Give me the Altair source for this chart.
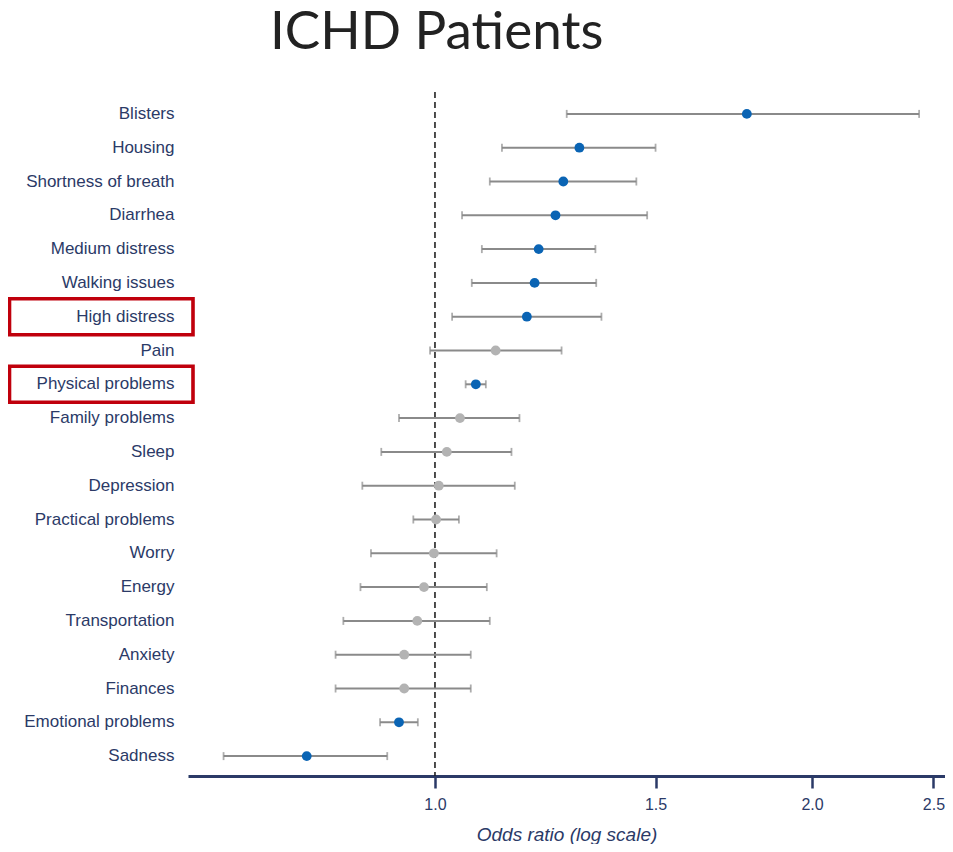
import altair as alt
import pandas as pd

labels = ["Blisters", "Housing", "Shortness of breath", "Diarrhea", "Medium distress",
          "Walking issues", "High distress", "Pain", "Physical problems", "Family problems",
          "Sleep", "Depression", "Practical problems", "Worry", "Energy", "Transportation",
          "Anxiety", "Finances", "Emotional problems", "Sadness"]
odds = [1.774, 1.304, 1.266, 1.248, 1.210, 1.201, 1.184, 1.118, 1.078, 1.047,
        1.022, 1.007, 1.002, 0.998, 0.980, 0.968, 0.945, 0.945, 0.936, 0.790]
lower = [1.274, 1.131, 1.106, 1.051, 1.090, 1.070, 1.032, 0.991, 1.058, 0.936,
         0.906, 0.875, 0.961, 0.889, 0.872, 0.845, 0.833, 0.833, 0.904, 0.678]
upper = [2.435, 1.500, 1.448, 1.477, 1.343, 1.345, 1.358, 1.262, 1.098, 1.168,
         1.151, 1.158, 1.045, 1.120, 1.100, 1.106, 1.068, 1.068, 0.969, 0.916]
significant = ["yes", "yes", "yes", "yes", "yes", "yes", "yes", "no", "yes", "no",
               "no", "no", "no", "no", "no", "no", "no", "no", "yes", "yes"]
highlighted = ["High distress", "Physical problems"]
ref_line = [1.0]
x_ticks = [1.0, 1.5, 2.0, 2.5]

NAVY = "#2b3a67"
df = pd.DataFrame({"label": labels, "odds": odds, "lower": lower,
                   "upper": upper, "sig": significant})
boxes = pd.DataFrame({"label": highlighted})
ref = pd.DataFrame({"ref": ref_line})

W, H = 757, 676
xscale = alt.Scale(type="log", domain=[0.6351, 2.5536], nice=False, zero=False)
yenc = alt.Y("label:N", sort=labels,
             scale=alt.Scale(type="band", paddingInner=0, paddingOuter=0),
             axis=alt.Axis(title=None, domain=False, ticks=False, grid=False,
                           labelFont="Liberation Sans", labelFontSize=17,
                           labelColor=NAVY, labelPadding=14, labelLimit=400))

base = alt.Chart(df)

bars = base.mark_rule(color="#8a8a8a", strokeWidth=2).encode(
    x=alt.X("lower:Q", scale=xscale,
            axis=alt.Axis(values=x_ticks, format=".1f", title="Odds ratio (log scale)",
                          grid=False, offset=3, domainColor=NAVY, domainWidth=3,
                          tickColor=NAVY, tickWidth=2.5, tickSize=12,
                          labelFont="Liberation Sans", labelFontSize=16,
                          labelColor=NAVY, labelPadding=8,
                          titleFont="Liberation Sans", titleFontSize=19,
                          titleFontStyle="italic", titleFontWeight="normal",
                          titleColor=NAVY, titlePadding=13)),
    x2="upper:Q",
    y=yenc,
)
cap_lo = base.mark_tick(color="#8a8a8a", thickness=1.8, size=8, orient="vertical").encode(
    x=alt.X("lower:Q", scale=xscale), y=alt.Y("label:N", sort=labels))
cap_hi = base.mark_tick(color="#8a8a8a", thickness=1.8, size=8, orient="vertical").encode(
    x=alt.X("upper:Q", scale=xscale), y=alt.Y("label:N", sort=labels))

rule = alt.Chart(ref).mark_rule(color="#222222", strokeWidth=1.6, strokeDash=[6, 4]).encode(
    x=alt.X("ref:Q", scale=xscale), y=alt.value(-5), y2=alt.value(H + 3))

pts = base.mark_circle(size=96, opacity=1).encode(
    x=alt.X("odds:Q", scale=xscale),
    y=alt.Y("label:N", sort=labels),
    color=alt.Color("sig:N", scale=alt.Scale(domain=["yes", "no"], range=["#0a64b4", "#b3b3b3"]),
                    legend=None),
)

box = alt.Chart(boxes).mark_rect(height=36, fillOpacity=0, stroke="#c0000c", strokeWidth=3.6).encode(
    y=alt.Y("label:N", sort=labels), x=alt.value(-178.5), x2=alt.value(5))

chart = alt.layer(rule, bars, cap_lo, cap_hi, pts, box).properties(
    width=W, height=H,
    title=alt.Title("ICHD Patients", font="Lato", fontSize=53, fontWeight="normal",
                    color="#222222", anchor="start", frame="group", dx=82, offset=31),
    autosize=alt.AutoSizeParams(type="none"),
    padding={"left": 180, "top": 89, "right": 0, "bottom": 71},
).configure_view(stroke=None)

chart.save("out.html", embed_options={"renderer": "svg", "actions": False})
